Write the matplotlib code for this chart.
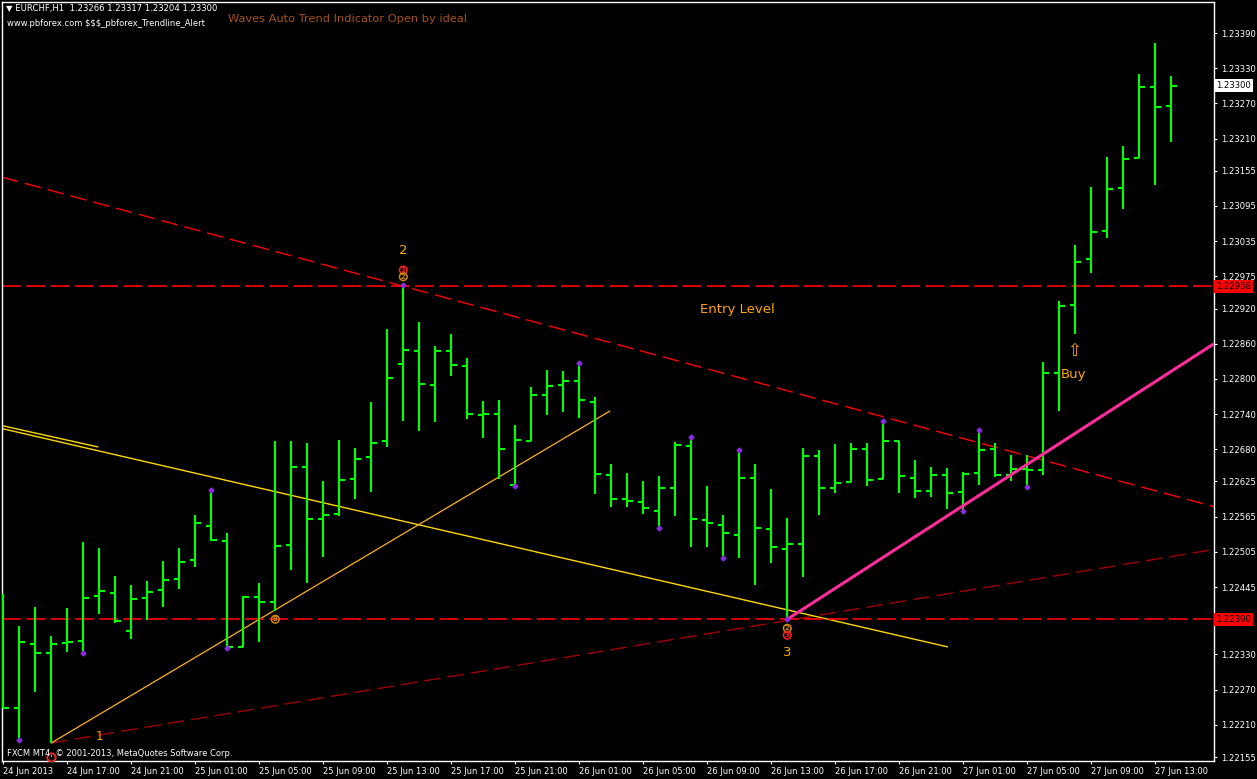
import numpy as np
import matplotlib
matplotlib.use("Agg")
import matplotlib.pyplot as plt
from matplotlib import transforms as mtransforms

plt.rcParams['font.family'] = ['DejaVu Sans']
plt.rcParams['lines.scale_dashes'] = False

# EURCHF H1 bars, 24 Jun 2013 13:00 .. 27 Jun 2013 14:00
opens = [1.22320, 1.22239, 1.22348, 1.22332, 1.22350, 1.22353, 1.22430, 1.22435, 1.22370, 1.22426,
         1.22440, 1.22459, 1.22491, 1.22549, 1.22523, 1.22343, 1.22428, 1.22419, 1.22517, 1.22650,
         1.22561, 1.22569, 1.22629, 1.22667, 1.22694, 1.22825, 1.22847, 1.22790, 1.22847, 1.22822,
         1.22738, 1.22740, 1.22619, 1.22694, 1.22772, 1.22790, 1.22796, 1.22761, 1.22636, 1.22595,
         1.22590, 1.22575, 1.22614, 1.22686, 1.22559, 1.22551, 1.22534, 1.22631, 1.22544, 1.22510,
         1.22518, 1.22668, 1.22614, 1.22624, 1.22680, 1.22629, 1.22694, 1.22631, 1.22609, 1.22636,
         1.22607, 1.22639, 1.22680, 1.22636, 1.22646, 1.22644, 1.22810, 1.22926, 1.23005, 1.23052,
         1.23126, 1.23177, 1.23298, 1.23266]
highs = [1.22433, 1.22378, 1.22411, 1.22361, 1.22409, 1.22522, 1.22512, 1.22464, 1.22448, 1.22455,
         1.22489, 1.22512, 1.22568, 1.22610, 1.22537, 1.22430, 1.22452, 1.22694, 1.22694, 1.22691,
         1.22626, 1.22696, 1.22682, 1.22761, 1.22885, 1.22960, 1.22897, 1.22856, 1.22877, 1.22836,
         1.22762, 1.22764, 1.22721, 1.22786, 1.22815, 1.22813, 1.22827, 1.22769, 1.22655, 1.22639,
         1.22626, 1.22634, 1.22692, 1.22701, 1.22617, 1.22568, 1.22679, 1.22655, 1.22612, 1.22563,
         1.22682, 1.22679, 1.22689, 1.22691, 1.22691, 1.22728, 1.22694, 1.22662, 1.22650, 1.22648,
         1.22641, 1.22713, 1.22691, 1.22670, 1.22670, 1.22829, 1.22933, 1.23028, 1.23127, 1.23179,
         1.23197, 1.23320, 1.23373, 1.23317]
lows = [1.22239, 1.22184, 1.22266, 1.22179, 1.22334, 1.22332, 1.22399, 1.22384, 1.22356, 1.22389,
        1.22411, 1.22442, 1.22479, 1.22523, 1.22341, 1.22343, 1.22351, 1.22404, 1.22474, 1.22452,
        1.22496, 1.22566, 1.22595, 1.22607, 1.22684, 1.22728, 1.22711, 1.22726, 1.22805, 1.22732,
        1.22699, 1.22629, 1.22617, 1.22694, 1.22738, 1.22743, 1.22733, 1.22604, 1.22581, 1.22581,
        1.22569, 1.22546, 1.22566, 1.22513, 1.22513, 1.22495, 1.22495, 1.22448, 1.22486, 1.22390,
        1.22462, 1.22568, 1.22605, 1.22624, 1.22617, 1.22629, 1.22605, 1.22597, 1.22599, 1.22578,
        1.22575, 1.22619, 1.22633, 1.22626, 1.22616, 1.22636, 1.22745, 1.22877, 1.22981, 1.23040,
        1.23090, 1.23177, 1.23131, 1.23204]
closes = [1.22239, 1.22351, 1.22332, 1.22348, 1.22351, 1.22426, 1.22438, 1.22387, 1.22425, 1.22436,
          1.22457, 1.22488, 1.22554, 1.22525, 1.22343, 1.22428, 1.22419, 1.22515, 1.22650, 1.22561,
          1.22568, 1.22627, 1.22663, 1.22691, 1.22802, 1.22849, 1.22791, 1.22847, 1.22824, 1.22740,
          1.22740, 1.22680, 1.22696, 1.22772, 1.22788, 1.22796, 1.22764, 1.22638, 1.22595, 1.22592,
          1.22580, 1.22614, 1.22687, 1.22561, 1.22554, 1.22537, 1.22631, 1.22546, 1.22513, 1.22518,
          1.22668, 1.22614, 1.22622, 1.22680, 1.22627, 1.22694, 1.22634, 1.22609, 1.22636, 1.22605,
          1.22638, 1.22679, 1.22636, 1.22646, 1.22644, 1.22810, 1.22924, 1.22999, 1.23051, 1.23124,
          1.23175, 1.23298, 1.23264, 1.23300]

time_labels = ['24 Jun 2013', '24 Jun 17:00', '24 Jun 21:00', '25 Jun 01:00', '25 Jun 05:00',
               '25 Jun 09:00', '25 Jun 13:00', '25 Jun 17:00', '25 Jun 21:00', '26 Jun 01:00',
               '26 Jun 05:00', '26 Jun 09:00', '26 Jun 13:00', '26 Jun 17:00', '26 Jun 21:00',
               '27 Jun 01:00', '27 Jun 05:00', '27 Jun 09:00', '27 Jun 13:00']
price_ticks = [1.23390, 1.23330, 1.23270, 1.23210, 1.23155, 1.23095, 1.23035, 1.22975, 1.22920,
               1.22860, 1.22800, 1.22740, 1.22680, 1.22625, 1.22565, 1.22505, 1.22445, 1.22330,
               1.22270, 1.22210, 1.22155]

entry_level = 1.22958
low_level = 1.22390
last_price = 1.23300

# trend lines as (bar, price) anchor pairs
red_trend = [(25, 1.22958), (75, 1.22587)]
darkred_trend = [(3, 1.22179), (75, 1.22506)]
orange_trend = [(3, 1.22179), (37.9, 1.22745)]
yellow_trend = [(-0.2, 1.22716), (59.0, 1.22343)]
yellow_short = [(-0.2, 1.22721), (5.9, 1.22684)]
pink_trend = [(49, 1.22390), (75.67, 1.22860)]

pivot_highs = [13, 25, 36, 43, 46, 55, 61]
pivot_lows = [1, 5, 14, 32, 41, 45, 49, 60, 64]

W, H = 1257, 779
fig = plt.figure(figsize=(W / 100, H / 100), dpi=100, facecolor='black')
ax = fig.add_axes([2 / W, 18 / H, 1212 / W, 759 / H])
ax.set_facecolor('black')
xmin, xmax = -0.081, 75.67
ax.set_xlim(xmin, xmax)
ax.set_ylim(1.221482, 1.234429)

x = np.arange(len(opens))
green = '#00FF00'
ax.vlines(x, lows, highs, color=green, lw=1.5, capstyle='butt', zorder=3)
ax.hlines(opens, x - 0.33, x, color=green, lw=1.5, capstyle='butt', zorder=3)
ax.hlines(closes, x, x + 0.33, color=green, lw=1.5, capstyle='butt', zorder=3)


def line_between(pts, x0=None, x1=None):
    (xa, ya), (xb, yb) = pts
    k = (yb - ya) / (xb - xa)
    x0 = xa if x0 is None else x0
    x1 = xb if x1 is None else x1
    return [x0, x1], [ya + k * (x0 - xa), ya + k * (x1 - xa)]


dash = (0, (12, 5))
xs, ys = line_between(red_trend, xmin, xmax)
ax.plot(xs, ys, color='#FF0000', lw=1.0, linestyle=dash, zorder=2)
xs, ys = line_between(darkred_trend, 3, xmax)
ax.plot(xs, ys, color='#A00000', lw=1.0, linestyle=dash, zorder=2)
xs, ys = line_between(orange_trend)
ax.plot(xs, ys, color='#FFB020', lw=0.9, zorder=2)
xs, ys = line_between(yellow_trend)
ax.plot(xs, ys, color='#FFD700', lw=1.0, zorder=2)
xs, ys = line_between(yellow_short)
ax.plot(xs, ys, color='#FFD700', lw=1.0, zorder=2)
xs, ys = line_between(pink_trend)
ax.plot(xs, ys, color='#FF2D9B', lw=2.2, zorder=4, solid_capstyle='butt')

for lvl in (entry_level, low_level):
    ax.axhline(lvl, color='#FF0000', lw=1.2, linestyle=(0, (13.5, 4)), zorder=2)

# pivot markers
ax.plot(pivot_highs, [highs[i] for i in pivot_highs], 'D', ms=2.5, color='#8A2BE2', zorder=5)
ax.plot(pivot_lows, [lows[i] for i in pivot_lows], 'D', ms=2.5, color='#8A2BE2', zorder=5)

orange = '#FFA500'


def circ(xv, yv, dy, txt, col):
    ax.annotate(txt, xy=(xv, yv), xytext=(0, dy), textcoords='offset points',
                ha='center', va='center', fontsize=4.8, color=col, fontweight='bold',
                bbox=dict(boxstyle='circle,pad=0.12', fc='none', ec=col, lw=1.1), zorder=6)


circ(25, highs[25], 10.8, '3', '#FF2020')
circ(25, highs[25], 6.0, '2', '#D08A10')
ax.annotate('2', xy=(25, highs[25]), xytext=(0, 25), textcoords='offset points',
            ha='center', va='center', fontsize=9.5, color=orange)
circ(49, lows[49], -6.5, '2', '#D08A10')
circ(49, lows[49], -11.5, '3', '#FF2020')
ax.annotate('3', xy=(49, lows[49]), xytext=(0, -24), textcoords='offset points',
            ha='center', va='center', fontsize=9.5, color=orange)
circ(17, low_level, 0, '8', '#D08A10')
# wave 1 start marker, mostly hidden under the copyright line
off = mtransforms.offset_copy(ax.transData, fig=fig, y=-10, units='points')
ax.plot([3], [lows[3]], 'o', ms=6, mfc='none', mec='#FF2020', mew=1.3, transform=off, zorder=6)
ax.text(6, 1.22190, '1', color=orange, fontsize=8.5, ha='center', va='center')

ax.text(45.9, 1.22919, 'Entry Level', color=orange, fontsize=9.5, ha='center', va='center')
ax.text(66.9, 1.22808, 'Buy', color=orange, fontsize=9.5, ha='center', va='center')
ax.text(66.9, 1.22848, '\u21e7', color=orange, fontsize=12, ha='center', va='center')

# axes styling
for sp in ax.spines.values():
    sp.set_color('white')
    sp.set_linewidth(1)
ax.yaxis.tick_right()
ax.set_yticks(price_ticks)
ax.set_yticklabels(['%.5f' % p for p in price_ticks])
ax.tick_params(axis='y', colors='white', labelsize=6.1, length=2.5, pad=2.5, width=0.8)
ax.set_xticks(np.arange(0, len(time_labels) * 4, 4))
ax.set_xticklabels(time_labels, ha='left')
ax.tick_params(axis='x', colors='white', labelsize=6.0, length=2.5, pad=1.5, width=0.8)

# price boxes on the right axis
yt = mtransforms.blended_transform_factory(ax.transAxes, ax.transData)
for val, fc in ((last_price, 'white'), (entry_level, '#FF0000'), (low_level, '#FF0000')):
    ax.text(1.0015, val, '%.5f' % val, transform=yt, ha='left', va='center', fontsize=6.1,
            color='black', clip_on=False, zorder=7,
            bbox=dict(boxstyle='square,pad=0.25', fc=fc, ec='none'))

# header and footer texts
def fx(px):
    return (px - 2) / 1212


def fy(py):
    return 1 - (py - 2) / 759


ax.text(fx(6), fy(9), '\u25bc EURCHF,H1  1.23266 1.23317 1.23204 1.23300', transform=ax.transAxes,
        color='white', fontsize=6.1, ha='left', va='center')
ax.text(fx(7), fy(23), 'www.pbforex.com $$$_pbforex_Trendline_Alert', transform=ax.transAxes,
        color='white', fontsize=6.0, ha='left', va='center')
ax.text(fx(228), fy(19), 'Waves Auto Trend Indicator Open by ideal', transform=ax.transAxes,
        color='#A4531C', fontsize=8.2, ha='left', va='center')
ax.text(fx(7), fy(753), 'FXCM MT4, \u00a9 2001-2013, MetaQuotes Software Corp.', transform=ax.transAxes,
        color='white', fontsize=6.0, ha='left', va='center', zorder=8)

fig.savefig('out.png', dpi=100, facecolor='black')
